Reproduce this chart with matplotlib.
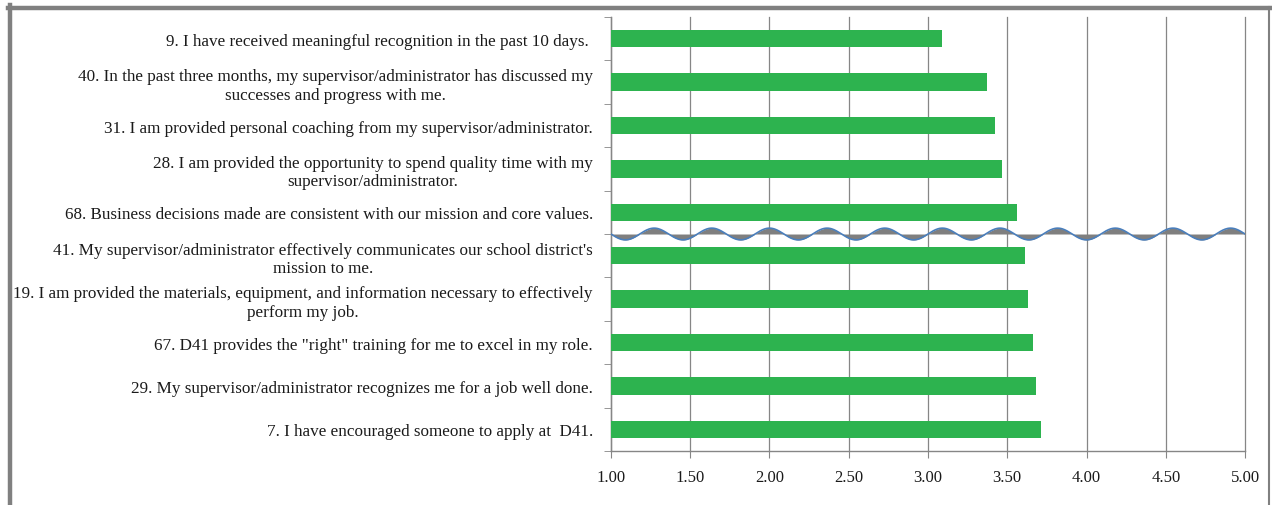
import numpy as np
import matplotlib
matplotlib.use("Agg")
import matplotlib.pyplot as plt
from matplotlib.lines import Line2D

# survey items, top to bottom
labels = [
    "9. I have received meaningful recognition in the past 10 days. ",
    "40. In the past three months, my supervisor/administrator has discussed my\nsuccesses and progress with me.",
    "31. I am provided personal coaching from my supervisor/administrator.",
    "28. I am provided the opportunity to spend quality time with my\nsupervisor/administrator.",
    "68. Business decisions made are consistent with our mission and core values.",
    "41. My supervisor/administrator effectively communicates our school district's\nmission to me.",
    "19. I am provided the materials, equipment, and information necessary to effectively\nperform my job.",
    "67. D41 provides the \"right\" training for me to excel in my role.",
    "29. My supervisor/administrator recognizes me for a job well done.",
    "7. I have encouraged someone to apply at  D41.",
]
scores = [3.09, 3.37, 3.42, 3.47, 3.56, 3.61, 3.63, 3.66, 3.68, 3.71]
x_ticks = [1.00, 1.50, 2.00, 2.50, 3.00, 3.50, 4.00, 4.50, 5.00]

plt.rcParams['font.family'] = ['Liberation Serif', 'DejaVu Serif']

fig = plt.figure(figsize=(12.72, 5.06), dpi=100)
ax = fig.add_axes([0.4803, 0.1067, 0.4985, 0.8577])

ypos = np.arange(len(labels))
ax.barh(ypos, [s - 1 for s in scores], left=1, height=0.4, color='#2db34f', zorder=3)

ax.set_xlim(1, 5)
ax.set_ylim(len(labels) - 0.5, -0.5)
ax.set_xticks(x_ticks)
ax.set_xticklabels([f"{t:.2f}" for t in x_ticks], fontsize=12, color='#1a1a1a')
ax.set_yticks(ypos)
ax.set_yticklabels(labels, fontsize=12.3, color='#1a1a1a', linespacing=1.2)
for t in ax.get_yticklabels():
    t.set_multialignment('center')
ax.set_yticks(np.arange(-0.5, len(labels), 1), minor=True)
ax.tick_params(axis='y', which='major', length=0, pad=13)
ax.tick_params(axis='y', which='minor', length=5, color='#868686', direction='out')
ax.tick_params(axis='x', length=5, color='#868686', pad=8)

ax.grid(axis='x', color='#868686', linewidth=0.9, zorder=0)
for gl in ax.get_xgridlines():
    gl.set_clip_on(False)
for s in ['top', 'right']:
    ax.spines[s].set_visible(False)
for s in ['left', 'bottom']:
    ax.spines[s].set_color('#868686')
    ax.spines[s].set_linewidth(1.0)

# wavy break marker between items 68 and 41
wx = np.linspace(1, 5, 800)
wy = 4.5 + 0.135 * np.sin(2 * np.pi * 11 * (wx - 1) / 4)
ax.fill_between(wx, 4.5, wy, color='#7f7f7f', zorder=4, linewidth=0)
ax.plot(wx, wy, color='#4a7ebb', linewidth=1.2, zorder=5)

# outer frame
fig.add_artist(Line2D([9.5 / 1272, 9.5 / 1272], [0, 1 - 6 / 506], transform=fig.transFigure,
                      color='#808080', linewidth=3.2))
fig.add_artist(Line2D([7.5 / 1272, 1270 / 1272], [1 - 8.5 / 506, 1 - 8.5 / 506],
                      transform=fig.transFigure, color='#808080', linewidth=3.2))
fig.add_artist(Line2D([1269 / 1272, 1269 / 1272], [0, 1 - 8 / 506], transform=fig.transFigure,
                      color='#808080', linewidth=1.5))

fig.savefig("out.png", dpi=100)
